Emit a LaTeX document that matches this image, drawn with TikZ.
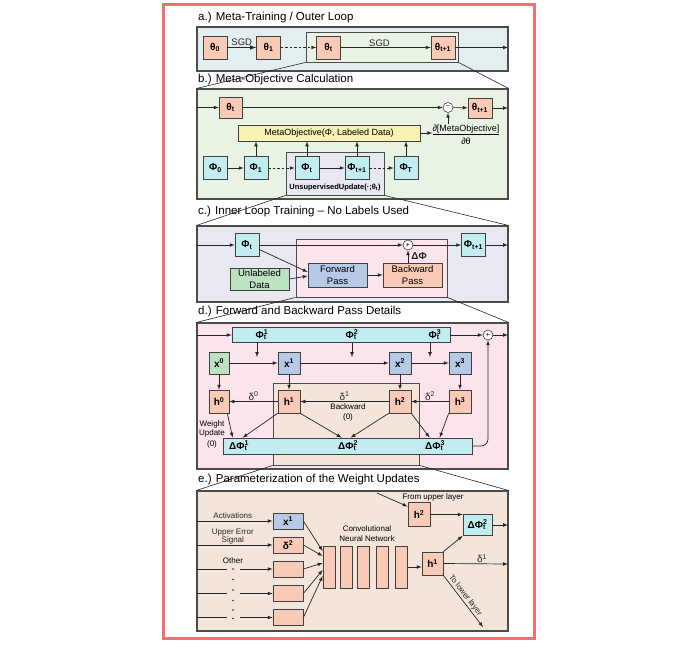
\documentclass[tikz,border=0pt]{standalone}
\usepackage{fontspec}
\setmainfont{Liberation Sans}
\usepackage{tikz}
\usetikzlibrary{arrows,calc,positioning,fit}

\definecolor{rahmen}{HTML}{F07070}
\definecolor{farbeA}{HTML}{E3EEF1}
\definecolor{farbeB}{HTML}{E8F3E4}
\definecolor{farbeC}{HTML}{E7E8F1}
\definecolor{farbeD}{HTML}{FBE4EB}
\definecolor{farbeE}{HTML}{F3E5DA}
\definecolor{lachs}{HTML}{F9CAB5}
\definecolor{tuerkis}{HTML}{C2EDF0}
\definecolor{blau}{HTML}{B6CAE8}
\definecolor{gruen}{HTML}{BCE2C2}
\definecolor{gelb}{HTML}{F5F2B3}

\newcommand{\stk}[2]{\rlap{\textsubscript{#1}}\textsuperscript{#2}}

\tikzset{
  panel/.style={draw=black!70, line width=1.1pt, inner sep=0pt},
  innen/.style={draw=black!70, line width=0.8pt, inner sep=0pt},
  zoomlinie/.style={black!85, line width=0.6pt},
  titel/.style={anchor=west, inner sep=0pt, font=\fontsize{11.5}{13}\selectfont},
  kasten/.style={draw=black!75, line width=0.7pt, inner sep=0pt, font=\bfseries\fontsize{10}{11}\selectfont},
  quad/.style={minimum width=24pt, minimum height=23pt},
  pfeil/.style={-latex, line width=0.7pt, black!85},
  linie/.style={line width=0.7pt, black!85},
  gestrichelt/.style={dash pattern=on 2.5pt off 2pt},
  op/.style={circle, draw=black!75, fill=white, line width=0.6pt, minimum size=10pt, inner sep=0pt, font=\fontsize{7}{7}\selectfont},
  klein/.style={font=\fontsize{8}{9}\selectfont, inner sep=1pt, align=center},
  sgd/.style={font=\fontsize{9.5}{10}\selectfont, inner sep=1pt},
  delta/.style={font=\fontsize{10}{11}\selectfont, inner sep=0.5pt},
  lab/.style={font=\bfseries\fontsize{10}{11}\selectfont, inner sep=0pt},
}

\begin{document}
\begin{tikzpicture}[x=1pt,y=-1pt]
\useasboundingbox (0,0) rectangle (691,649);
\fill[white] (0,0) rectangle (691,649);
\draw[rahmen, line width=3pt] (163,4) rectangle (534,638);

%Panels und Ausschnitte
\node[panel, fill=farbeA, fit={(197,27) (508,71)}] (panelA) {};
\node[panel, fill=farbeB, fit={(197,89) (508,199)}] (panelB) {};
\node[panel, fill=farbeC, fit={(197,226) (508,302)}] (panelC) {};
\node[panel, fill=farbeD, fit={(197,323) (508,469)}] (panelD) {};
\node[panel, fill=farbeE, fit={(197,491) (508,631)}] (panelE) {};
\node[innen, fill=farbeB, fit={(306,32) (458,62)}] (boxA) {};
\node[innen, fill=farbeC, fit={(286,152) (384,195)}] (boxB) {};
\node[innen, fill=farbeD, fit={(296,239) (447,297)}] (boxC) {};
\node[innen, fill=farbeE, fit={(273,383) (419,465)}] (boxD) {};
\draw[zoomlinie] (boxA.south west) -- (panelB.north west);
\draw[zoomlinie] (boxA.south east) -- (panelB.north east);
\draw[zoomlinie] (boxB.south west) -- (panelC.north west);
\draw[zoomlinie] (boxB.south east) -- (panelC.north east);
\draw[zoomlinie] (boxC.south west) -- (panelD.north west);
\draw[zoomlinie] (boxC.south east) -- (panelD.north east);
\draw[zoomlinie] (boxD.south west) -- (panelE.north west);
\draw[zoomlinie] (boxD.south east) -- (panelE.north east);

\node[titel] (titelA) at (198,18) {a.) Meta-Training / Outer Loop};
\node[titel] (titelB) at (198,80) {b.) Meta-Objective Calculation};
\node[titel] (titelC) at (198,212) {c.) Inner Loop Training – No Labels Used};
\node[titel] (titelD) at (198,312) {d.) Forward and Backward Pass Details};
\node[titel] (titelE) at (198,480) {e.) Parameterization of the Weight Updates};

%a.) aeussere Schleife
\node[kasten, quad, fill=lachs] (thA0) at (215,47.5) {θ\textsubscript{0}};
\node[kasten, quad, fill=lachs] (thA1) at (268.5,47.5) {θ\textsubscript{1}};
\node[kasten, quad, fill=lachs] (thAt) at (328.5,47.5) {θ\textsubscript{t}};
\node[kasten, quad, fill=lachs] (thAtt) at (443,47.5) {θ\textsubscript{t+1}};
\coordinate (ausA) at (508,47.5);
\draw[pfeil, line width=1.1pt] (thA0) -- node[above, sgd] {SGD} (thA1);
\draw[pfeil, gestrichelt] (thA1) -- (thAt);
\draw[pfeil] (thAt) -- node[above, sgd, pos=.43] {SGD} (thAtt);
\draw[pfeil] (thAtt) -- (ausA);

%b.) Meta-Objective
\node[kasten, minimum width=23pt, minimum height=21pt, fill=lachs] (thBt) at (230.5,107.5) {θ\textsubscript{t}};
\node[op] (minus) at (448,107.5) {−};
\node[kasten, minimum width=24pt, minimum height=20pt, fill=lachs] (thBtt) at (480,108) {θ\textsubscript{t+1}};
\coordinate (einB) at (197,107.5);
\coordinate (ausB) at (508,108);
\draw[pfeil] (einB) -- (thBt);
\draw[pfeil] (thBt) -- (minus);
\draw[pfeil] (minus) -- (thBtt);
\draw[pfeil] (thBtt) -- (ausB);
\node[kasten, fill=gelb, minimum width=182pt, minimum height=16pt, font=\fontsize{9}{10}\selectfont] (metaobj) at (329,133) {MetaObjective(Φ, Labeled Data)};
\node[align=center, inner sep=0pt, font=\fontsize{9}{13}\selectfont] (grad) at (466,134.5) {\underline{∂[MetaObjective]}\\∂θ};
\draw[pfeil] (metaobj.east) -- (metaobj.east -| grad.west);
\draw[pfeil] (minus |- grad.north) -- (minus.south);
\node[kasten, quad, fill=tuerkis] (phi0) at (215.5,168) {Φ\textsubscript{0}};
\node[kasten, quad, fill=tuerkis] (phi1) at (256,168) {Φ\textsubscript{1}};
\node[kasten, quad, fill=tuerkis] (phit) at (307,168) {Φ\textsubscript{t}};
\node[kasten, quad, fill=tuerkis] (phitt) at (357,168) {Φ\textsubscript{t+1}};
\node[kasten, quad, fill=tuerkis] (phiT) at (406,168) {Φ\textsubscript{T}};
\draw[pfeil] (phi0) -- (phi1);
\draw[pfeil, gestrichelt] (phi1) -- (phit);
\draw[pfeil] (phit) -- (phitt);
\draw[pfeil, gestrichelt] (phitt) -- (phiT);
\foreach \n in {phi1,phit,phitt,phiT}{
\draw[pfeil] (\n.north) -- (\n.north |- metaobj.south);
}
\node[inner sep=0pt, font=\bfseries\fontsize{7.5}{8}\selectfont] (unsup) at (335,188) {UnsupervisedUpdate(·;θ\textsubscript{t})};

%c.) innere Schleife
\node[kasten, quad, fill=tuerkis] (phiC) at (247,245) {Φ\textsubscript{t}};
\node[op] (plusC) at (408,245) {+};
\node[kasten, quad, fill=tuerkis] (phiCtt) at (473.5,245) {Φ\textsubscript{t+1}};
\node[kasten, fill=blau, minimum width=59pt, minimum height=24pt, align=center, font=\fontsize{9.5}{11.5}\selectfont] (vorw) at (337.5,275) {Forward\\Pass};
\node[kasten, fill=lachs, minimum width=59pt, minimum height=24pt, align=center, font=\fontsize{9.5}{11.5}\selectfont] (rueckw) at (412.5,275) {Backward\\Pass};
\node[kasten, fill=gruen, minimum width=59pt, minimum height=22pt, align=center, font=\fontsize{9.5}{11.5}\selectfont] (daten) at (259.5,279) {Unlabeled\\Data};
\coordinate (einC) at (197,245);
\coordinate (ausC) at (508,245);
\draw[pfeil] (einC) -- (phiC);
\draw[pfeil] (phiC) -- (plusC);
\draw[pfeil] (plusC) -- (phiCtt);
\draw[pfeil] (phiCtt) -- (ausC);
\draw[pfeil] (phiC.-20) -- ($(vorw.west)+(0,-3)$);
\draw[pfeil] (daten.east) -- ($(vorw.west)+(0,1)$);
\draw[pfeil] (vorw) -- (rueckw);
\draw[pfeil] (plusC |- rueckw.north) -- node[right, lab, xshift=3pt] {ΔΦ} (plusC.south);

%d.) Vorwaerts- und Rueckwaertsschritt
\node[kasten, fill=tuerkis, minimum width=218pt, minimum height=15pt] (phibar) at (341,335) {};
\node[lab] (phiL1) at (262,335) {Φ\stk{t}{1}};
\node[lab] (phiL2) at (352,335) {Φ\stk{t}{2}};
\node[lab] (phiL3) at (435,335) {Φ\stk{t}{3}};
\node[op] (plusD) at (488,335) {+};
\coordinate (einD) at (197,335);
\coordinate (ausD) at (508,335);
\draw[pfeil] (einD) -- (phibar);
\draw[pfeil] (phibar) -- (plusD);
\draw[pfeil] (plusD) -- (ausD);
\coordinate (d1) at (257,357);
\coordinate (d2) at (352,357);
\coordinate (d3) at (430,357);
\foreach \c in {d1,d2,d3}{
\draw[pfeil] (phibar.south -| \c) -- (\c);
}
\node[kasten, fill=gruen, minimum width=20pt, minimum height=22pt] (x0) at (219,363) {x\textsuperscript{0}};
\node[kasten, fill=blau, minimum width=22pt, minimum height=22pt] (x1) at (289,363) {x\textsuperscript{1}};
\node[kasten, fill=blau, minimum width=22pt, minimum height=22pt] (x2) at (400,363) {x\textsuperscript{2}};
\node[kasten, fill=blau, minimum width=22pt, minimum height=22pt] (x3) at (460,363) {x\textsuperscript{3}};
\node[kasten, fill=lachs, minimum width=20pt, minimum height=23pt] (h0) at (219,401.5) {h\textsuperscript{0}};
\node[kasten, fill=lachs, minimum width=22pt, minimum height=23pt] (h1) at (289,401.5) {h\textsuperscript{1}};
\node[kasten, fill=lachs, minimum width=22pt, minimum height=23pt] (h2) at (400,401.5) {h\textsuperscript{2}};
\node[kasten, fill=lachs, minimum width=22pt, minimum height=23pt] (h3) at (460,401.5) {h\textsuperscript{3}};
\draw[pfeil] (x0) -- (x1);
\draw[pfeil] (x1) -- (x2);
\draw[pfeil] (x2) -- (x3);
\foreach \i in {0,...,3}{
\draw[pfeil] (x\i) -- (h\i);
}
\draw[pfeil] (h3) -- node[above, delta] {δ\textsuperscript{2}} (h2);
\draw[pfeil] (h2) -- node[above, delta] {δ\textsuperscript{1}} (h1);
\draw[pfeil] (h1) -- node[above, delta] {δ\textsuperscript{0}} (h0);
\node[klein, font=\fontsize{8}{10}\selectfont] (bwlabel) at (348,412) {Backward\\(0)};
\node[klein] (wulabel) at (212,434) {Weight\\Update\\[2pt](0)};
\node[kasten, fill=tuerkis, minimum width=249pt, minimum height=16pt] (dbar) at (347.5,446) {};
\node[lab] (dL1) at (239,446) {ΔΦ\stk{t}{1}};
\node[lab] (dL2) at (348,446) {ΔΦ\stk{t}{2}};
\node[lab] (dL3) at (435,446) {ΔΦ\stk{t}{3}};
\draw[pfeil] ($(h0.south east)+(-2,0)$) -- ($(dbar.north west)+(10,0)$);
\draw[pfeil] (h1.south west) -- ($(dbar.north west)+(20,0)$);
\draw[pfeil] (h1.south east) -- ($(dbar.north west)+(119,0)$);
\draw[pfeil] (h2.south west) -- ($(dbar.north west)+(128,0)$);
\draw[pfeil] (h2.south east) -- ($(dbar.north west)+(207,0)$);
\draw[pfeil] (h3.south west) -- ($(dbar.north west)+(217,0)$);
\draw[pfeil, rounded corners=7pt] (dbar.east) -| (plusD.south);

%e.) Parametrisierung
\node[kasten, fill=blau, minimum width=30pt, minimum height=16pt] (x1e) at (288,521) {x\textsuperscript{1}};
\node[kasten, fill=lachs, minimum width=30pt, minimum height=16pt] (d2e) at (288,545) {δ\textsuperscript{2}};
\node[kasten, fill=lachs, minimum width=30pt, minimum height=16pt] (e3) at (288,569) {};
\node[kasten, fill=lachs, minimum width=30pt, minimum height=16pt] (e4) at (288,593.5) {};
\node[kasten, fill=lachs, minimum width=30pt, minimum height=16pt] (e5) at (288,617.5) {};
\coordinate (r1) at (197,521);
\coordinate (r2) at (197,545);
\draw[pfeil] (r1) -- node[above, klein, inner sep=2pt, xshift=-2pt] {Activations} (x1e);
\draw[pfeil] (r2) -- node[above, klein, font=\fontsize{8}{8}\selectfont, inner sep=1pt, xshift=-2pt] {Upper Error\\Signal} (d2e);
\foreach \r in {e3,e4,e5}{
\coordinate (l\r) at (r1 |- \r);
\coordinate (m\r) at ($(l\r)+(30,0)$);
\coordinate (n\r) at ($(l\r)+(43,0)$);
\draw[linie] (l\r) -- (m\r);
\draw[pfeil] (n\r) -- (\r);
}
\node[klein] (other) at (233,561) {Other};
\foreach \y in {569,579.5,590,600.5,610,618.5}{
\fill[black!85] (233,\y) circle (0.9pt);
}
\foreach \i/\x in {1/329,2/346,3/363,4/382,5/401.5}{
\node[kasten, fill=lachs, minimum width=12pt, minimum height=42pt] (cnn\i) at (\x,567) {};
}
\node[klein, font=\fontsize{8}{10}\selectfont] (cnnlabel) at (367,534) {Convolutional\\Neural Network};
\foreach \q/\dy in {x1e/-16,d2e/-11,e3/-4,e4/3,e5/9}{
\draw[pfeil] (\q.east) -- ($(cnn1.west)+(0,\dy)$);
}
\node[kasten, fill=lachs, minimum width=21pt, minimum height=23pt] (h1e) at (432.5,563.5) {h\textsuperscript{1}};
\node[kasten, fill=lachs, minimum width=22pt, minimum height=24pt] (h2e) at (419,514.5) {h\textsuperscript{2}};
\node[kasten, fill=tuerkis, minimum width=29pt, minimum height=21pt] (dphie) at (477.5,525) {ΔΦ\stk{t}{2}};
\node[klein] (oben) at (433,497) {From upper layer};
\coordinate (von) at (377,493);
\coordinate (ausE1) at (508,525);
\coordinate (ausE2) at (508,564);
\coordinate (ausE3) at (483,627);
\draw[pfeil] (cnn5.east) -- (cnn5.east -| h1e.west);
\draw[pfeil] (von) -- ($(h2e.west)+(0,-8)$);
\draw[pfeil] (h2e.east) -- (h2e.east -| dphie.west);
\draw[pfeil] (dphie) -- (ausE1);
\draw[pfeil] (h1e.north east) -- (dphie.south west);
\draw[pfeil] (h1e.east) -- node[above, delta, pos=.6] {δ\textsuperscript{1}} (ausE2);
\draw[pfeil] (h1e.south east) -- node[above, sloped, klein, pos=.45] {To lower layer} (ausE3);
\end{tikzpicture}
\end{document}
